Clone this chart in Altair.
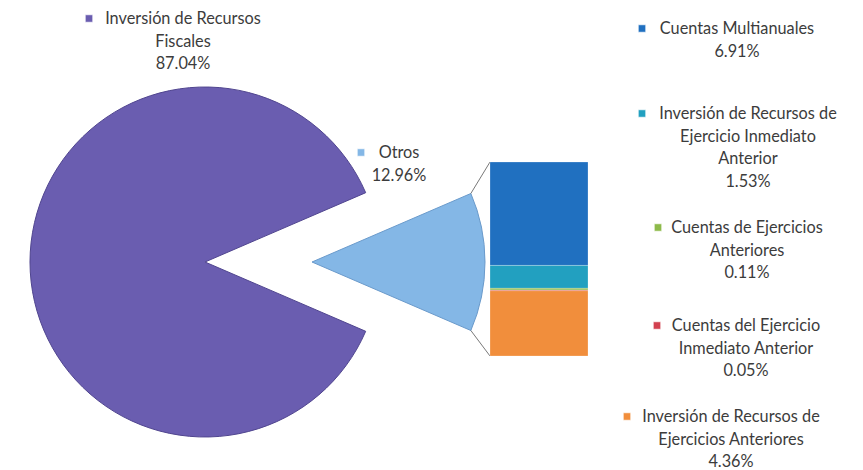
import math
import altair as alt
import pandas as pd

# ---------------- data ----------------
pie_labels = ["Otros", "Inversión de Recursos Fiscales"]
pie_values = [12.96, 87.04]
pie_colors = ["#84B7E6", "#6A5DB0"]
pie_strokes = ["#6A9ACB", "#50458F"]

bar_labels = [
    "Cuentas Multianuales",
    "Inversión de Recursos de Ejercicio Inmediato Anterior",
    "Cuentas de Ejercicios Anteriores",
    "Cuentas del Ejercicio Inmediato Anterior",
    "Inversión de Recursos de Ejercicios Anteriores",
]
bar_values = [6.91, 1.53, 0.11, 0.05, 4.36]
bar_colors = ["#2070C0", "#22A0C0", "#8DBA4A", "#D2414F", "#F18E3C"]

# wrapped label lines (as drawn in the chart)
label_names = ["Inversión de Recursos Fiscales", "Otros"] + bar_labels
label_lines = [
    ["Inversión de Recursos", "Fiscales"],
    ["Otros"],
    ["Cuentas Multianuales"],
    ["Inversión de Recursos de", "Ejercicio Inmediato", "Anterior"],
    ["Cuentas de Ejercicios", "Anteriores"],
    ["Cuentas del Ejercicio", "Inmediato Anterior"],
    ["Inversión de Recursos de", "Ejercicios Anteriores"],
]
label_values = [87.04, 12.96] + bar_values
label_colors = ["#6A5DB0", "#84B7E6"] + bar_colors

# ---------------- layout (pixels in chart coords) ----------------
W, H = 847, 462
pie_cx, pie_cy, pie_r = 197, 254, 175
otros_cx, otros_cy, otros_r = 304, 254, 173
bar_x0, bar_x1, bar_top, bar_bottom = 482, 580, 154, 348
label_cx = [175, 391, 729, 740, 739, 738, 723]
label_cy = [10, 144, 20, 105, 219, 317, 408]
marker_x = [81, 353, 634, 634, 650, 649, 619]
line_h = 22.5

font = "Lato"
fsize = 16.3
tcolor = "#3c3c3c"

# ---------------- pie ----------------
total = sum(pie_values)
starts, ends, acc = [], [], 0.0
for v in pie_values:
    starts.append(acc)
    acc += v
    ends.append(acc)
pie_df = pd.DataFrame({"label": pie_labels, "value": pie_values,
                       "start": starts, "end": ends})
# Otros slice centred on the right-hand (3 o'clock) direction
theta0 = math.pi / 2 - pie_values[0] / total * math.pi
theta_scale = alt.Scale(domain=[0, total], range=[theta0, theta0 + 2 * math.pi])

purple = alt.Chart(pie_df).transform_filter(
    alt.datum.label == pie_labels[1]
).mark_arc(radius=pie_r, fill=pie_colors[1], stroke=pie_strokes[1], strokeWidth=1).encode(
    theta=alt.Theta("start:Q", scale=theta_scale),
    theta2="end:Q",
    x=alt.value(pie_cx),
    y=alt.value(pie_cy),
)
otros = alt.Chart(pie_df).transform_filter(
    alt.datum.label == pie_labels[0]
).mark_arc(radius=otros_r, fill=pie_colors[0], stroke=pie_strokes[0], strokeWidth=1).encode(
    theta=alt.Theta("start:Q", scale=theta_scale),
    theta2="end:Q",
    x=alt.value(otros_cx),
    y=alt.value(otros_cy),
)

# ---------------- stacked bar ----------------
btotal = sum(bar_values)
tops, bots, acc = [], [], btotal
for v in bar_values:
    tops.append(acc)
    acc -= v
    bots.append(acc)
bar_df = pd.DataFrame({"label": bar_labels, "value": bar_values,
                       "top": tops, "bottom": bots, "color": bar_colors})
bars = alt.Chart(bar_df).mark_rect(stroke="#ffffff", strokeWidth=0.4, strokeOpacity=0.6).encode(
    y=alt.Y("top:Q", scale=alt.Scale(domain=[0, btotal], range=[bar_bottom, bar_top]), axis=None),
    y2="bottom:Q",
    x=alt.value(bar_x0),
    x2=alt.value(bar_x1),
    color=alt.Color("color:N", scale=None),
)

# ---------------- connector lines ----------------
a_top = theta0
a_bot = theta0 + pie_values[0] / total * 2 * math.pi
conn_df = pd.DataFrame({
    "x": [otros_cx + otros_r * math.sin(a_top), otros_cx + otros_r * math.sin(a_bot)],
    "y": [otros_cy - otros_r * math.cos(a_top), otros_cy - otros_r * math.cos(a_bot)],
    "x2": [bar_x0, bar_x0],
    "y2": [bar_top, bar_bottom],
})
conns = alt.Chart(conn_df).mark_rule(color="#555555", strokeWidth=0.8).encode(
    x=alt.X("x:Q", scale=None), y=alt.Y("y:Q", scale=None),
    x2="x2:Q", y2="y2:Q",
)

# ---------------- labels ----------------
rows = []
for name, lines, v, cx, cy, mx, col in zip(label_names, label_lines, label_values,
                                           label_cx, label_cy, marker_x, label_colors):
    txt = "\n".join(lines + [f"{v:.2f}%"])
    rows.append({"name": name, "text": txt, "cx": cx, "cy": cy + 6, "my": cy + 0.5,
                 "mx": mx, "color": col})
lab_df = pd.DataFrame(rows)

texts = alt.Chart(lab_df).mark_text(
    lineBreak="\n", align="center", baseline="alphabetic", lineHeight=line_h,
    font=font, fontSize=fsize, color=tcolor,
).encode(
    x=alt.X("cx:Q", scale=None), y=alt.Y("cy:Q", scale=None), text="text:N",
)
markers = alt.Chart(lab_df).mark_square(size=55, opacity=1, stroke="#ffffff", strokeWidth=0.6).encode(
    x=alt.X("mx:Q", scale=None), y=alt.Y("my:Q", scale=None),
    color=alt.Color("color:N", scale=None),
)

chart = alt.layer(purple, otros, conns, bars, markers, texts).resolve_scale(
    x="independent", y="independent"
).properties(
    width=W, height=H, padding=0, autosize=alt.AutoSizeParams(type="none"),
    background="#ffffff",
).configure_view(stroke=None)

chart.save("out.html", embed_options={"renderer": "svg", "actions": False})
